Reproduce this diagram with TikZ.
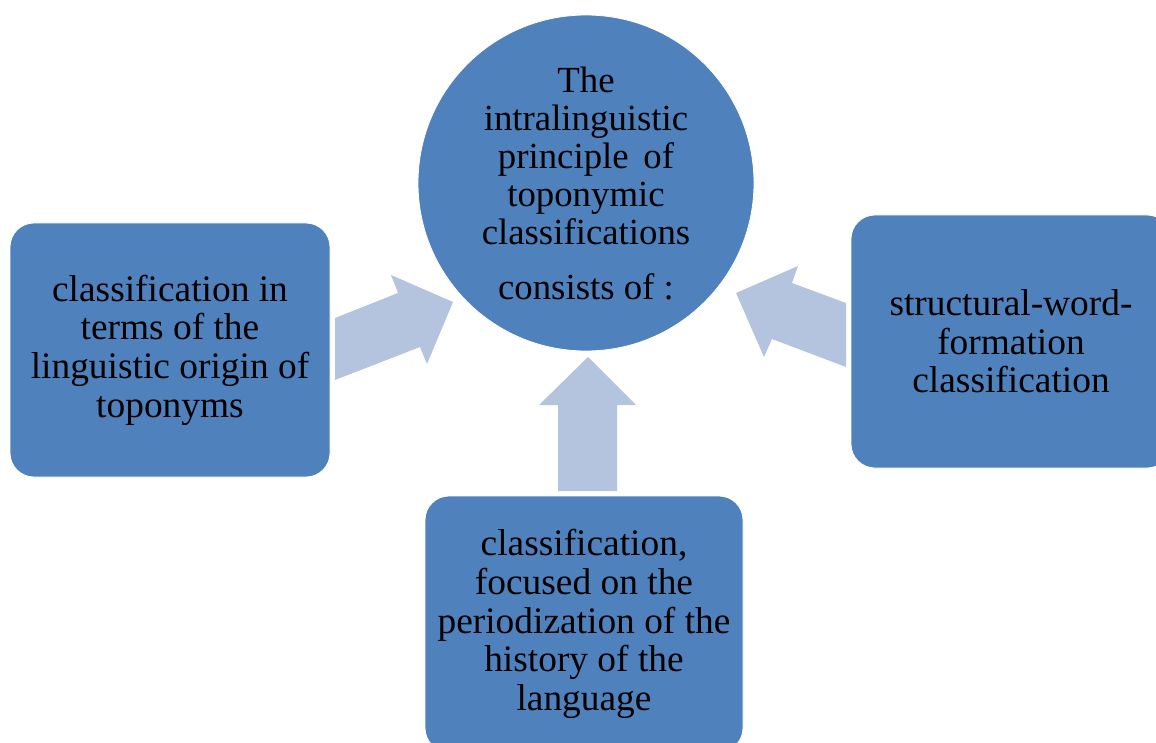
\documentclass[tikz,border=0pt]{standalone}
\usepackage{fontspec}
\setmainfont{Liberation Serif}
\definecolor{boxblue}{RGB}{79,129,189}
\definecolor{arrowblue}{RGB}{180,195,222}
\begin{document}
\begin{tikzpicture}[x=1pt,y=-1pt,
  panel/.style={rectangle, rounded corners=24pt, fill=boxblue, draw=white, line width=0.8pt,
    align=center, text=black, inner sep=0pt,
    font=\fontsize{37.4}{38.7}\selectfont},
  hub/.style={circle, fill=boxblue, draw=white, line width=0.8pt, minimum size=336pt,
    align=center, text=black, inner sep=0pt,
    font=\fontsize{36.8}{38.2}\selectfont},
  blockarrow/.style={fill=arrowblue}]
\useasboundingbox (0,0) rectangle (1156,743);
\clip (0,0) rectangle (1156,743);

% central circle
\node[hub] (hub) at (586,183)
  {The\\ intralinguistic\\ principle\hspace{0.4em}of\\ toponymic\\ classifications\\[16pt] consists of :};

% the three classification boxes
\node[panel, minimum width=320pt, minimum height=254pt] (left) at (170,350)
  {classification in\\ terms of the\\ linguistic origin of\\ toponyms};
\node[panel, minimum width=320pt, minimum height=253pt] (right) at (1011,341.5)
  {structural-word-\\ formation\\ classification};
\node[panel, minimum width=318pt, minimum height=256pt] (bottom) at (584,624)
  {classification,\\ focused on the\\ periodization of the\\ history of the\\ language};

% block arrows pointing at the circle
\fill[blockarrow] (335,318) -- (398,293) -- (391,275) -- (453,302) -- (427,364) -- (420,347) -- (335,380) -- cycle;
\fill[blockarrow] (846,303) -- (792,283) -- (798,266) -- (736,293) -- (764,357) -- (772,339) -- (846,367) -- cycle;
\fill[blockarrow] (558,491) -- (558,405) -- (539,405) -- (588,357) -- (636,405) -- (617,405) -- (617,491) -- cycle;
\end{tikzpicture}
\end{document}
